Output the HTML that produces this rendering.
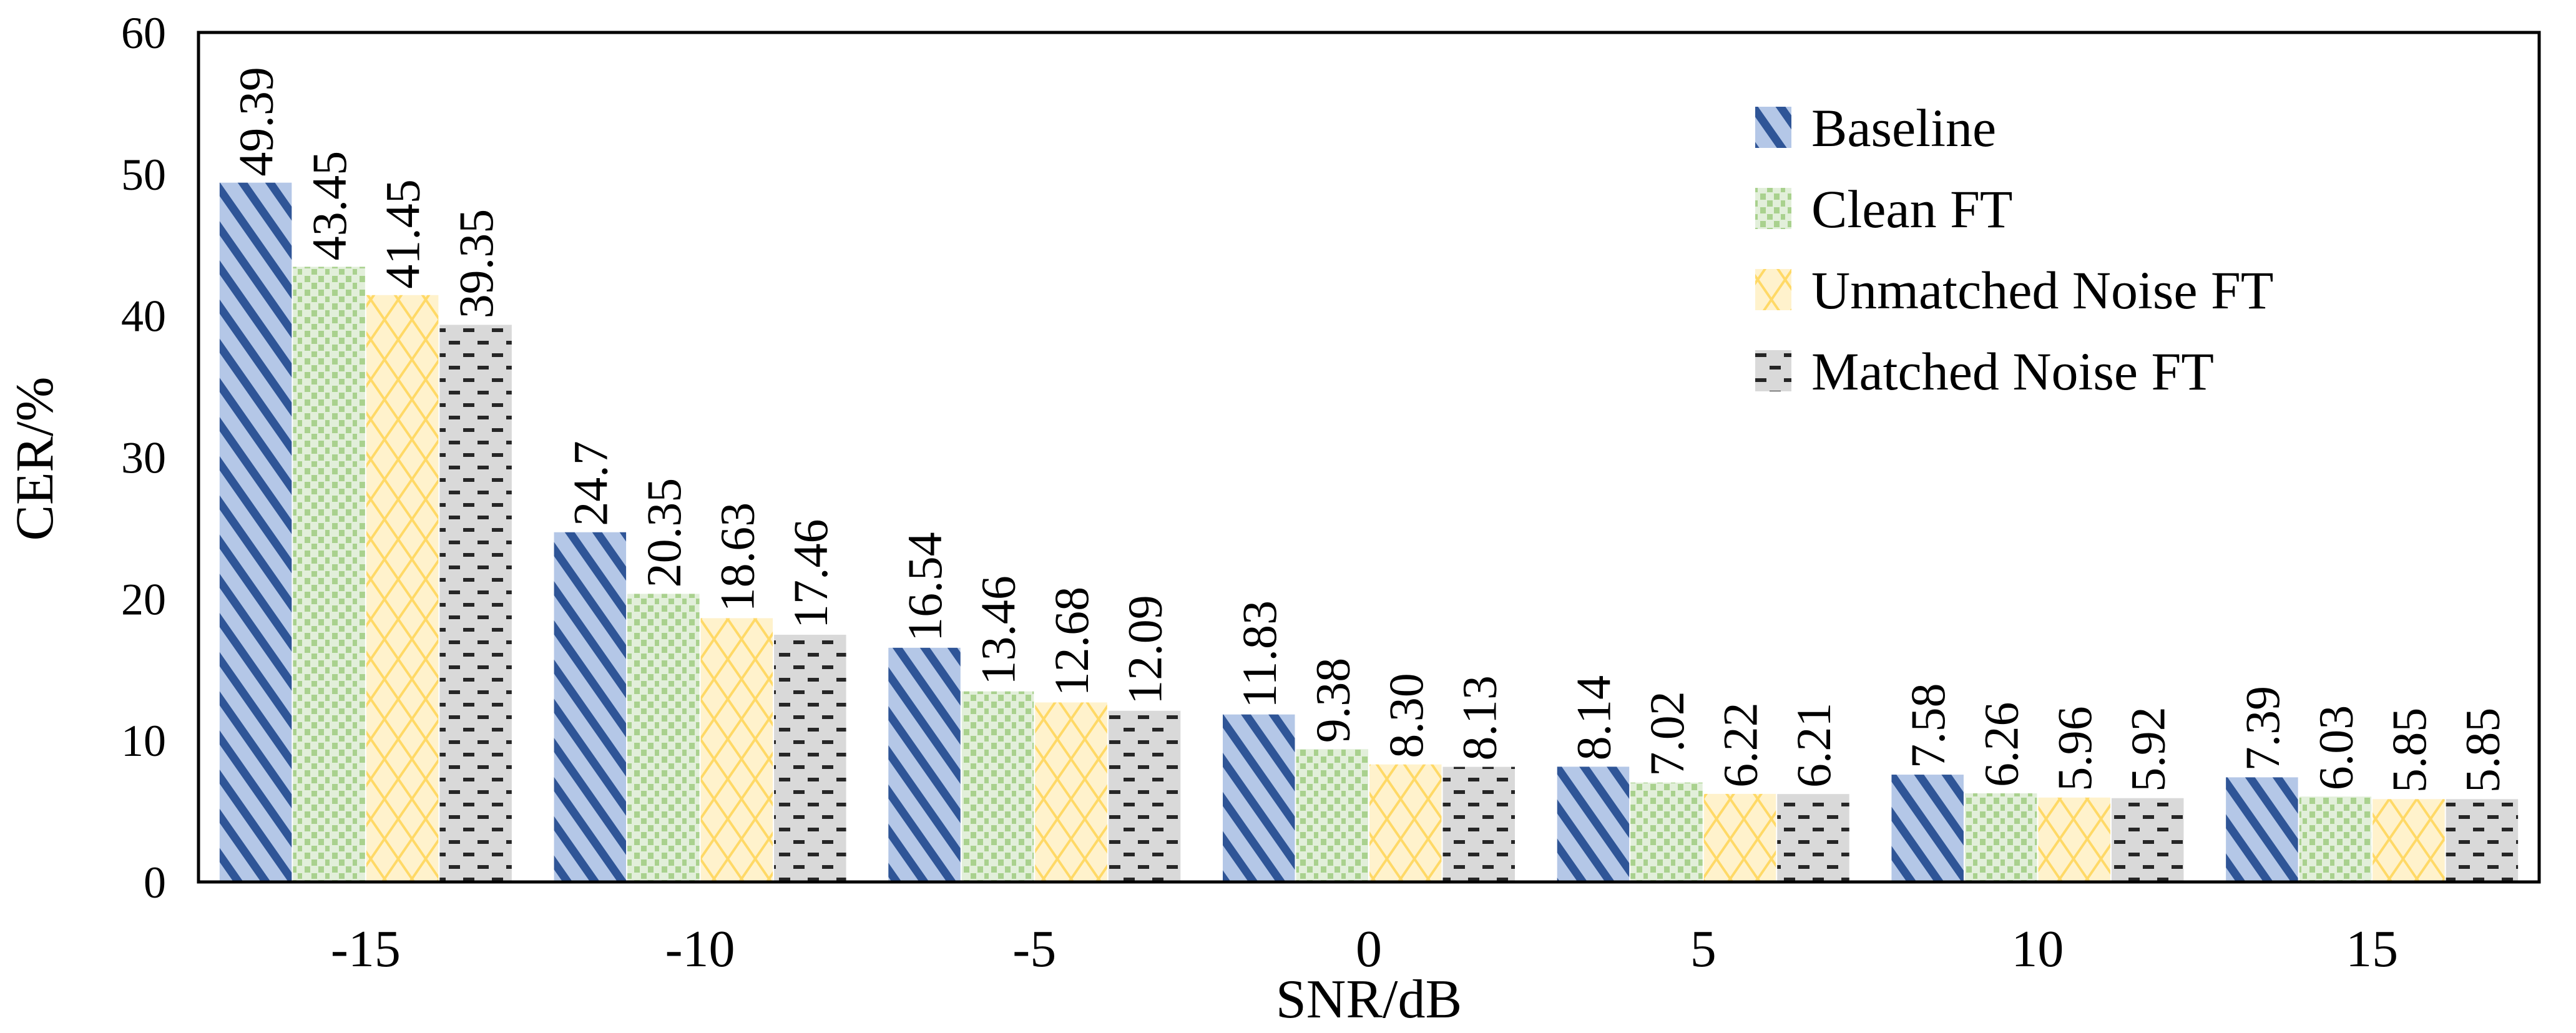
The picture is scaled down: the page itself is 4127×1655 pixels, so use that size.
<!DOCTYPE html>
<html><head><meta charset="utf-8"><style>
html,body{margin:0;padding:0;background:#fff;}
svg{display:block;font-family:"Liberation Serif",serif;}
</style></head><body>
<svg id="chart" width="4127" height="1655" viewBox="0 0 4127 1655" xmlns="http://www.w3.org/2000/svg">
<defs>
<pattern id="p-base" patternUnits="userSpaceOnUse" width="36" height="36" patternTransform="rotate(-35)">
<rect width="36" height="36" fill="#b4c7e7"/>
<rect x="0" y="0" width="13" height="36" fill="#2f5597"/>
</pattern>
<pattern id="p-clean" patternUnits="userSpaceOnUse" width="44" height="44">
<rect width="44" height="44" fill="#e2efda"/>
<rect x="4" y="2" width="9" height="10" fill="#a9d18e"/>
<rect x="26" y="2" width="9" height="10" fill="#a9d18e"/>
<rect x="15" y="13" width="9" height="10" fill="#a9d18e"/>
<rect x="37" y="13" width="9" height="10" fill="#a9d18e"/>
<rect x="4" y="24" width="9" height="10" fill="#a9d18e"/>
<rect x="26" y="24" width="9" height="10" fill="#a9d18e"/>
<rect x="15" y="35" width="9" height="9" fill="#a9d18e"/>
<rect x="37" y="35" width="9" height="9" fill="#a9d18e"/>
</pattern>
<pattern id="p-unm" patternUnits="userSpaceOnUse" width="44" height="64">
<rect width="44" height="64" fill="#fff2cc"/>
<path d="M0,0 L22,32 L0,64 M44,0 L22,32 L44,64" stroke="#ffd966" stroke-width="4" fill="none"/>
</pattern>
<pattern id="p-match" patternUnits="userSpaceOnUse" width="46" height="40">
<rect width="46" height="40" fill="#d9d9d9"/>
<rect x="6" y="6" width="18" height="6" fill="#262626"/>
<rect x="29" y="26" width="18" height="6" fill="#262626"/>
<rect x="-17" y="26" width="18" height="6" fill="#262626"/>
</pattern>
</defs>
<g id="bars"></g>
<g id="labels"></g>
<rect x="318" y="52" width="3750" height="1361" fill="none" stroke="#000" stroke-width="5"/>
<g id="yticks"></g>
<g id="xticks"></g>
<text x="2193" y="1630" font-size="88" text-anchor="middle">SNR/dB</text>
<text x="0" y="0" font-size="86" text-anchor="middle" transform="translate(84,735) rotate(-90)">CER/%</text>
<g id="legend"></g>
</svg>
<script>
const categories = ["-15","-10","-5","0","5","10","15"];
const seriesNames = ["Baseline","Clean FT","Unmatched Noise FT","Matched Noise FT"];
const baseline = [49.39,24.7,16.54,11.83,8.14,7.58,7.39];
const cleanFT = [43.45,20.35,13.46,9.38,7.02,6.26,6.03];
const unmatchedFT = [41.45,18.63,12.68,8.30,6.22,5.96,5.85];
const matchedFT = [39.35,17.46,12.09,8.13,6.21,5.92,5.85];
const baselineLabels = ["49.39","24.7","16.54","11.83","8.14","7.58","7.39"];
const cleanLabels = ["43.45","20.35","13.46","9.38","7.02","6.26","6.03"];
const unmatchedLabels = ["41.45","18.63","12.68","8.30","6.22","5.96","5.85"];
const matchedLabels = ["39.35","17.46","12.09","8.13","6.21","5.92","5.85"];
const yTicks = [0,10,20,30,40,50,60];

const NS="http://www.w3.org/2000/svg";
const L=318,R=4068,T=52,B=1413,yMax=60;
const fills=["url(#p-base)","url(#p-clean)","url(#p-unm)","url(#p-match)"];
const series=[baseline,cleanFT,unmatchedFT,matchedFT];
const labs=[baselineLabels,cleanLabels,unmatchedLabels,matchedLabels];
const slugs=["baseline","clean-ft","unmatched-noise-ft","matched-noise-ft"];
const groupW=(R-L)/categories.length, barW=117.5;
function y(v){return B-(v/yMax)*(B-T);}
function gx(i){return L+groupW*(i+0.5);}
function mk(tag,attrs,parent){const e=document.createElementNS(NS,tag);for(const k in attrs)e.setAttribute(k,attrs[k]);parent.appendChild(e);return e;}
const gb=document.getElementById('bars'),gl=document.getElementById('labels');
categories.forEach((c,i)=>{
  series.forEach((s,j)=>{
    const x=gx(i)-2*barW+j*barW;
    const r=mk('rect',{x:x+1,y:y(s[i]),width:barW-2,height:B-y(s[i]),fill:fills[j]},gb);
    
    
    const tx=x+barW/2+27, ty=y(s[i])-10;
    const t=mk('text',{x:0,y:0,'font-size':78,transform:`translate(${tx},${ty}) rotate(-90)`},gl);
    t.textContent=labs[j][i];
    
    
  });
});
const gy=document.getElementById('yticks');
yTicks.forEach(v=>{
  const t=mk('text',{x:266,y:y(v)+25,'font-size':72,'text-anchor':'end'},gy);
  t.textContent=v;
  
  
});
const gxk=document.getElementById('xticks');
categories.forEach((c,i)=>{
  const t=mk('text',{x:gx(i),y:1548,'font-size':84,'text-anchor':'middle'},gxk);
  t.textContent=c;
  
  
});
const lg=document.getElementById('legend');
seriesNames.forEach((n,j)=>{
  const cy=204+j*130;
  const g=mk('g',{},lg);
  
  
  mk('rect',{x:2812,y:cy-33,width:58,height:66,fill:fills[j]},g);
  const t=mk('text',{x:2902,y:cy+30,'font-size':86},g);
  t.textContent=n;
});
</script>
</body></html>
